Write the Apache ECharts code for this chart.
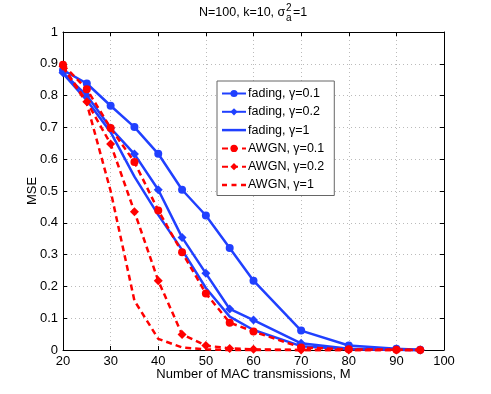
<!DOCTYPE html>
<html><head><meta charset="utf-8">
<script src="https://cdn.jsdelivr.net/npm/echarts@6/dist/echarts.min.js"></script>
<style>html,body{margin:0;padding:0;background:#fff}#c{width:491px;height:394px}</style>
</head><body><div id="c"></div>
<script>
// Number of MAC transmissions M
const M = [20, 25, 30, 35, 40, 45, 50, 55, 60, 70, 80, 90, 95];
const fading01 = [0.880, 0.838, 0.768, 0.701, 0.617, 0.504, 0.423, 0.321, 0.218, 0.061, 0.014, 0.004, 0.001];
const fading02 = [0.872, 0.800, 0.698, 0.616, 0.504, 0.354, 0.241, 0.129, 0.094, 0.021, 0.004, 0.001, 0.000];
const fading1  = [0.870, 0.785, 0.685, 0.545, 0.425, 0.315, 0.195, 0.105, 0.063, 0.012, 0.002, 0.001, 0.000];
const awgn01   = [0.897, 0.820, 0.698, 0.591, 0.439, 0.307, 0.178, 0.086, 0.058, 0.008, 0.002, 0.001, 0.000];
const awgn02   = [0.892, 0.781, 0.648, 0.435, 0.218, 0.049, 0.014, 0.005, 0.002, 0.000, 0.000, 0.000, 0.000];
const awgn1    = [0.890, 0.775, 0.500, 0.155, 0.035, 0.008, 0.002, 0.000, 0.000, 0.000, 0.000, 0.000, 0.000];
const names = ['fading, γ=0.1','fading, γ=0.2','fading, γ=1','AWGN, γ=0.1','AWGN, γ=0.2','AWGN, γ=1'];
const xTicks = [20,30,40,50,60,70,80,90,100];
const yTicks = [0,0.1,0.2,0.3,0.4,0.5,0.6,0.7,0.8,0.9,1];

const BLUE = '#2040ff', RED = '#ff0000';
function pairs(ys){ return M.map((m,i)=>[m, ys[i]]); }
function mk(name, ys, color, dashed, symbol, size){
  return {
    name, type:'line', data: pairs(ys), color,
    symbol: symbol || 'none', symbolSize: size || 7, showSymbol: !!symbol,
    lineStyle:{color, width:2.5, type: dashed ? [6,4] : 'solid'},
    itemStyle:{color}, clip:false, animation:false, z: dashed?3:2
  };
}
const font = 'Liberation Sans, Arial, Helvetica, sans-serif';
const SOLID_ICON = 'path://M0,0h24v2.5h-24z';
const DASH_ICON = 'path://M0,0h5v2.5h-5z M9.5,0h5v2.5h-5z M19,0h5v2.5h-5z';
const chart = echarts.init(document.getElementById('c'));
const axisCommon = {
  axisLine:{show:true, onZero:false, lineStyle:{color:'#000', width:1}},
  axisTick:{show:true, inside:true, length:4, lineStyle:{color:'#000'}},
  axisLabel:{color:'#000', fontSize:13, fontFamily:font},
};
chart.setOption({
  animation:false,
  textStyle:{fontFamily:font},
  grid:{left:63, right:47, top:32, bottom:44, containLabel:false},
  graphic:[
    {type:'text', left:199, top:6, style:{text:'N=100, k=10, σ', font:'12.5px '+font, fill:'#000'}},
    {type:'text', left:286, top:3, style:{text:'2', font:'10px '+font, fill:'#000'}},
    {type:'text', left:286, top:13, style:{text:'a', font:'10px '+font, fill:'#000'}},
    {type:'text', left:293, top:6, style:{text:'=1', font:'12.5px '+font, fill:'#000'}}
  ],
  legend:{
    orient:'vertical', left:217, top:81,
    data:[
      {name:names[0]},
      {name:names[1]},
      {name:names[2], icon:SOLID_ICON},
      {name:names[3]},
      {name:names[4]},
      {name:names[5], icon:DASH_ICON}
    ],
    backgroundColor:'#fff', borderColor:'#666', borderWidth:1,
    padding:[6,10,4,4], itemGap:5.3, itemWidth:24, itemHeight:9,
    textStyle:{fontSize:12.5, color:'#000', fontFamily:font, padding:[0,0,0,-3]}
  },
  xAxis:[
    Object.assign({type:'value', min:20, max:100, interval:10, position:'bottom',
      name:'Number of MAC transmissions, M', nameLocation:'middle', nameGap:18, nameMoveOverlap:false,
      nameTextStyle:{color:'#000', fontSize:13, fontFamily:font},
      splitLine:{show:true, lineStyle:{color:'#bbb', type:[1,3], width:1}}}, axisCommon,
      {axisLabel:{color:'#000', fontSize:13, fontFamily:font, margin:5, formatter:v=>xTicks.includes(v)?String(v):''}}),
    Object.assign({type:'value', min:20, max:100, interval:10, position:'top', splitLine:{show:false}}, axisCommon,
      {axisLabel:{show:false}})
  ],
  yAxis:[
    Object.assign({type:'value', min:0, max:1, interval:0.1, position:'left',
      name:'MSE', nameLocation:'middle', nameGap:24, nameMoveOverlap:false,
      nameTextStyle:{color:'#000', fontSize:13, fontFamily:font},
      splitLine:{show:true, lineStyle:{color:'#bbb', type:[1,3], width:1}}}, axisCommon,
      {axisLabel:{color:'#000', fontSize:13, fontFamily:font, margin:5,
        formatter:v=>{const t=yTicks.find(a=>Math.abs(a-v)<1e-6); return t===undefined?'':String(t);}}}),
    Object.assign({type:'value', min:0, max:1, interval:0.1, position:'right', splitLine:{show:false}}, axisCommon,
      {axisLabel:{show:false}})
  ],
  series:[
    mk(names[0], fading01, BLUE, false, 'circle', 8),
    mk(names[1], fading02, BLUE, false, 'diamond', 9),
    mk(names[2], fading1, BLUE, false, null),
    mk(names[3], awgn01, RED, true, 'circle', 8),
    mk(names[4], awgn02, RED, true, 'diamond', 9),
    mk(names[5], awgn1, RED, true, null)
  ]
});
</script></body></html>
